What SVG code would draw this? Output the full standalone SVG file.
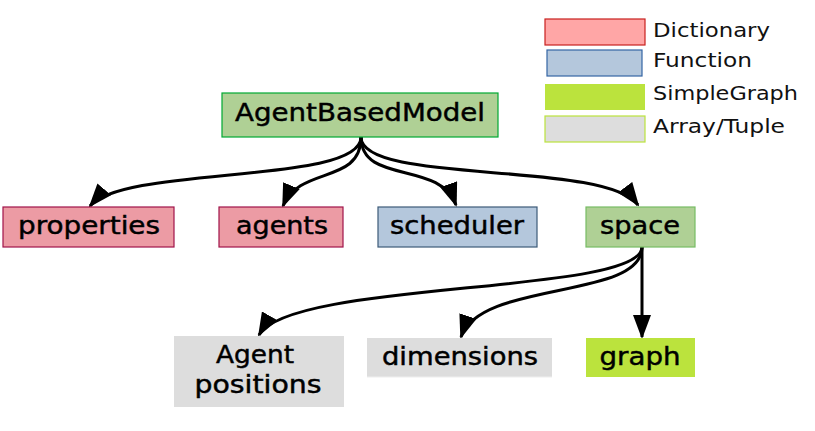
<svg xmlns="http://www.w3.org/2000/svg" width="815" height="431" viewBox="0 0 815 431">
<defs>
<style>
.lbl{font-family:"DejaVu Sans","Noto Sans",sans-serif;font-size:24px;fill:#000;stroke:#000;stroke-width:0.45;text-anchor:middle}
.leg{font-family:"DejaVu Sans","Noto Sans",sans-serif;font-size:20px;fill:#111}
.edge{fill:none;stroke:#000;stroke-width:3;marker-end:url(#arr)}
.dict{fill:#ec9ba4;stroke:#a1134a;stroke-width:1.2}
.func{fill:#b4c7dc;stroke:#3c5a78;stroke-width:1.2}
.grn{fill:#afd095}
.arr{fill:#dddddd}
.sg{fill:#bbe33d}
</style>
<marker id="arr" markerUnits="userSpaceOnUse" markerWidth="24" markerHeight="18" viewBox="0 0 24 18" refX="22" refY="9" orient="auto">
<path d="M0,0 L24,9 L0,18 z" fill="#000"/>
</marker>
</defs>
<rect width="815" height="431" fill="#fff"/>

<g id="legend">
<rect x="545" y="19" width="100" height="26" fill="#ffa6a6" stroke="#c9211e" stroke-width="1.2"/>
<text class="leg" x="653" y="37" textLength="117" lengthAdjust="spacingAndGlyphs">Dictionary</text>
<rect x="547" y="50" width="95" height="26" fill="#b4c7dc" stroke="#3465a4" stroke-width="1.2"/>
<text class="leg" x="653" y="67" textLength="99" lengthAdjust="spacingAndGlyphs">Function</text>
<rect x="545" y="84" width="100" height="26" fill="#bbe33d"/>
<text class="leg" x="653" y="100" textLength="145" lengthAdjust="spacingAndGlyphs">SimpleGraph</text>
<rect x="545" y="116" width="100" height="26" fill="#dddddd" stroke="#bbe33d" stroke-width="1.2"/>
<text class="leg" x="653" y="133" textLength="132" lengthAdjust="spacingAndGlyphs">Array/Tuple</text>
</g>

<g id="connectors">
<path class="edge" d="M361,137 C361,185 125,165 90,206"/>
<path class="edge" d="M361,137 C361,185 300,165 283,206"/>
<path class="edge" d="M361,137 C361,185 440,160 456,205"/>
<path class="edge" d="M361,137 C361,185 605,160 638,205"/>
<path class="edge" d="M642,247 C642,295 290,280 259,335"/>
<path class="edge" d="M642,247 C642,300 480,280 461,337"/>
<path class="edge" d="M642,247 L642,337"/>
</g>

<g id="AgentBasedModel">
<rect x="222" y="93" width="276" height="44" class="grn" stroke="#00a933" stroke-width="1.2"/>
<text class="lbl" x="360" y="121" textLength="250" lengthAdjust="spacingAndGlyphs">AgentBasedModel</text>
</g>
<g id="properties">
<rect x="3" y="207" width="171" height="40" class="dict"/>
<text class="lbl" x="89" y="234" textLength="142" lengthAdjust="spacingAndGlyphs">properties</text>
</g>
<g id="agents">
<rect x="219" y="207" width="124" height="40" class="dict"/>
<text class="lbl" x="282" y="234" textLength="92" lengthAdjust="spacingAndGlyphs">agents</text>
</g>
<g id="scheduler">
<rect x="378" y="207" width="159" height="40" class="func"/>
<text class="lbl" x="457" y="234" textLength="134" lengthAdjust="spacingAndGlyphs">scheduler</text>
</g>
<g id="space">
<rect x="586" y="207" width="109" height="40" class="grn" stroke="#77bc65" stroke-width="1.2"/>
<text class="lbl" x="640" y="234" textLength="80" lengthAdjust="spacingAndGlyphs">space</text>
</g>
<g id="agent-positions">
<rect x="174" y="336" width="170" height="71" class="arr"/>
<text class="lbl" x="255" y="363" textLength="78" lengthAdjust="spacingAndGlyphs">Agent</text>
<text class="lbl" x="258" y="393" textLength="127" lengthAdjust="spacingAndGlyphs">positions</text>
</g>
<g id="dimensions">
<rect x="367" y="338" width="185" height="39" class="arr"/>
<line x1="367" y1="377" x2="552" y2="377" stroke="#eeeeee" stroke-width="1"/>
<text class="lbl" x="460" y="365" textLength="156" lengthAdjust="spacingAndGlyphs">dimensions</text>
</g>
<g id="graph">
<rect x="586" y="338" width="109" height="39" class="sg"/>
<text class="lbl" x="640" y="365" textLength="81" lengthAdjust="spacingAndGlyphs">graph</text>
</g>
</svg>
